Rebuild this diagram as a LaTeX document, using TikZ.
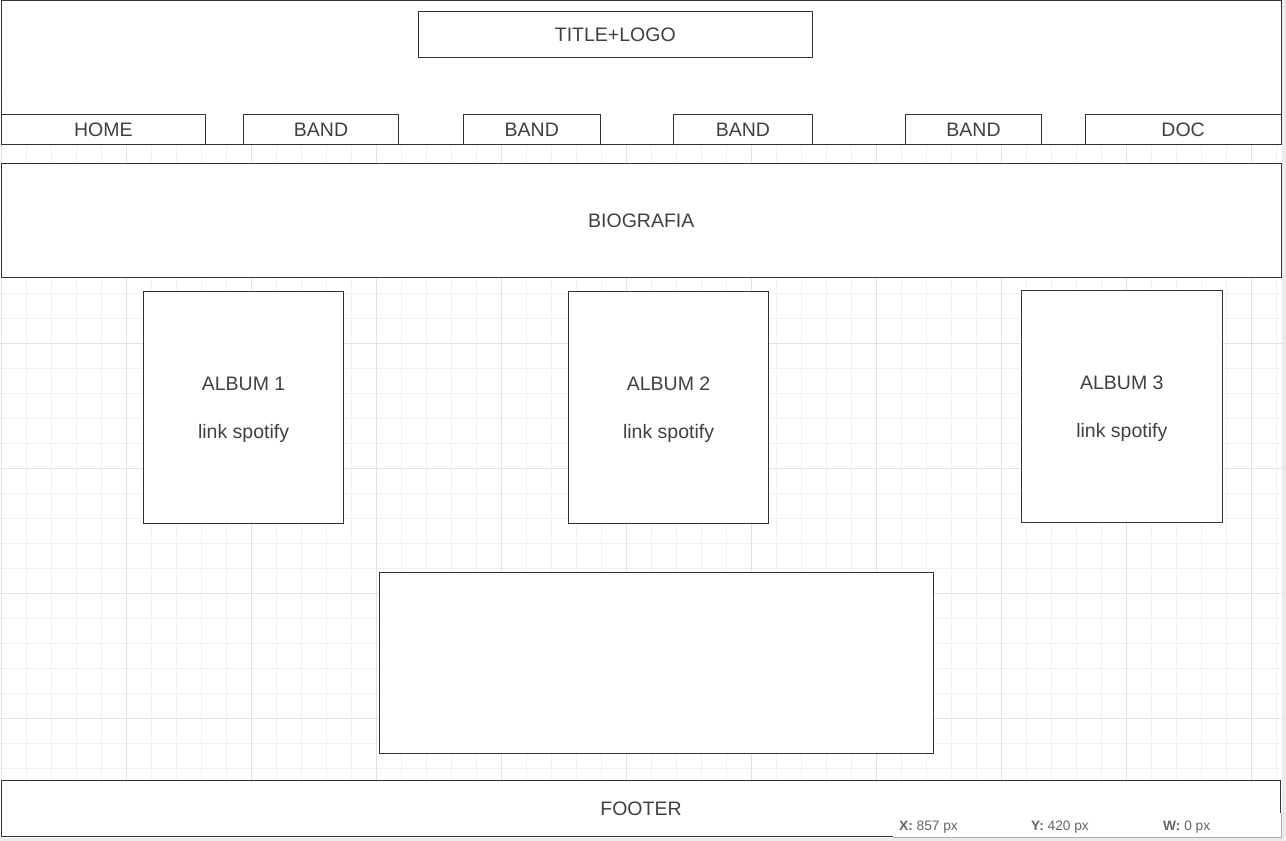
\documentclass[tikz,border=0pt]{standalone}
\usepackage{fontspec}
\setmainfont{Liberation Sans}
\definecolor{edge}{HTML}{333333}
\definecolor{ink}{HTML}{404040}
\definecolor{gridminor}{HTML}{F1F1F1}
\definecolor{gridmajor}{HTML}{E2E2E2}
\definecolor{margin}{HTML}{EBEBEB}
\definecolor{statusink}{HTML}{666666}
\definecolor{statusedge}{HTML}{B0B0B0}

\begin{document}
\begin{tikzpicture}[x=1pt,y=-1pt,
  wire/.style={draw=edge, fill=white, line width=1pt, inner sep=0pt, outer sep=0pt,
    anchor=north west, text=ink, font=\fontsize{19.5}{23}\selectfont},
  lbl/.style={text=ink, inner sep=0pt, font=\fontsize{19.5}{23}\selectfont},
  stat/.style={text=statusink, inner sep=0pt, anchor=base west,
    font=\fontsize{13.7}{16}\selectfont},
]
\useasboundingbox (0,0) rectangle (1286,841);
\fill[white] (0,0) rectangle (1286,841);
\fill[margin] (1282,0) rectangle (1286,841);
\fill[margin] (0,838) rectangle (1286,841);

% canvas grid: minor every 25, major every 125
\foreach \k in {0,...,51}
  \draw[gridminor, line width=1pt] ({1.7+25*\k},0) -- ({1.7+25*\k},838);
\foreach \k in {0,...,32}
  \draw[gridminor, line width=1pt] (0,{18+25*\k}) -- (1282,{18+25*\k});
\foreach \k in {0,...,10}
  \draw[gridmajor, line width=1pt] ({1.7+125*\k},0) -- ({1.7+125*\k},838);
\foreach \k in {0,...,5}
  \draw[gridmajor, line width=1pt] (0,{93+125*\k}) -- (1282,{93+125*\k});

% header with title and navigation
\node[wire, minimum width=1280, minimum height=143.5] (header) at (1.3,0.5) {};
\node[wire, minimum width=394, minimum height=46] (title) at (418.3,11.3) {TITLE+LOGO};
\node[wire, minimum width=204, minimum height=30] (home) at (1.3,114.3) {HOME};
\node[wire, minimum width=155.4, minimum height=30] (band1) at (243.3,114.3) {BAND};
\node[wire, minimum width=137, minimum height=30] (band2) at (463.3,114.3) {BAND};
\node[wire, minimum width=139.2, minimum height=30] (band3) at (673.3,114.3) {BAND};
\node[wire, minimum width=136.4, minimum height=30] (band4) at (905.3,114.3) {BAND};
\node[wire, minimum width=195.7, minimum height=30] (doc) at (1085.3,114.3) {DOC};

% biography band
\node[wire, minimum width=1280, minimum height=114] (bio) at (1.3,163.3) {BIOGRAFIA};

% albums
\node[wire, minimum width=200.5, minimum height=231.5] (album1) at (143.3,291.7) {};
\node[wire, minimum width=200.5, minimum height=231.5] (album2) at (568.3,291.7) {};
\node[wire, minimum width=201, minimum height=231.5] (album3) at (1021.3,290.7) {};
\foreach \a/\n in {album1/1, album2/2, album3/3} {
  \node[lbl] (\a-name) at ([yshift=23.5pt]\a.center) {ALBUM \n};
  \node[lbl] (\a-link) at ([yshift=-26pt]\a.center) {link spotify};
}

% empty panel
\node[wire, minimum width=554, minimum height=181] (panel) at (379.3,572.3) {};

% footer
\node[wire, minimum width=1279, minimum height=56] (footer) at (1.5,780.7) {FOOTER};

% status readout
\node[fill=white, inner sep=0pt, outer sep=0pt, anchor=north west, minimum width=388, minimum height=24] (status) at (893,813) {};
\draw[statusedge, line width=1pt] (status.north east) -- (status.south east) -- (status.south west);
\node[stat] (sx) at (899,830) {\textbf{X:} 857 px};
\node[stat] (sy) at (1031,830) {\textbf{Y:} 420 px};
\node[stat] (sw) at (1163,830) {\textbf{W:} 0 px};
\end{tikzpicture}
\end{document}
